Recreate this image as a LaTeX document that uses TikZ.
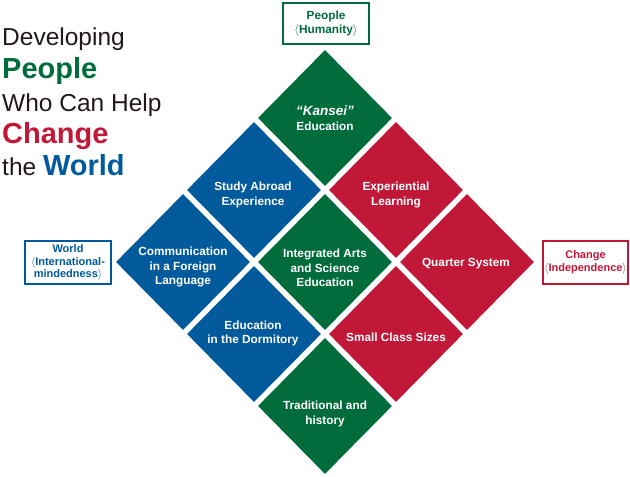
\documentclass[tikz,border=0pt]{standalone}
\usepackage{fontspec}
\setmainfont{Liberation Sans}
\usetikzlibrary{shapes.geometric}
\definecolor{cgreen}{RGB}{0,108,59}
\definecolor{cblue}{RGB}{0,90,156}
\definecolor{cred}{RGB}{193,24,56}
\definecolor{cblack}{RGB}{35,24,21}
\begin{document}
\begin{tikzpicture}[x=1pt,y=-1pt,
 tile/.style={diamond, minimum width=134, minimum height=136, inner sep=0, draw=none},
 lbl/.style={text=white, font=\bfseries\fontsize{11.8}{14.5}\selectfont, align=center, inner sep=0},
 frame/.style={draw, line width=2, fill=white, minimum width=86, minimum height=42, inner sep=0, align=center, font=\bfseries\fontsize{11}{13}\selectfont},
 ttl/.style={anchor=base west, inner sep=0, font=\fontsize{24.5}{29}\selectfont, text=cblack},
 ttlb/.style={anchor=base west, inner sep=0, font=\bfseries\fontsize{29}{34}\selectfont}]
\useasboundingbox (0,0) rectangle (630,477);

% title
\node[ttl] (t1) at (2,45) {Developing};
\node[ttlb, text=cgreen] (t2) at (2,78) {People};
\node[ttl] (t3) at (2,111) {Who Can Help};
\node[ttlb, text=cred] (t4) at (2,143) {Change};
\node[ttl] (t5) at (2,175) {the \textcolor{cblue}{\bfseries\fontsize{29}{34}\selectfont World}};

% tiles
\node[tile, fill=cgreen] (kansei) at (325,118) {};
\node[tile, fill=cblue]  (study)  at (254,190) {};
\node[tile, fill=cred]   (exper)  at (396,190) {};
\node[tile, fill=cblue]  (comm)   at (183,262) {};
\node[tile, fill=cgreen] (integ)  at (325,262) {};
\node[tile, fill=cred]   (quart)  at (467,262) {};
\node[tile, fill=cblue]  (dorm)   at (254,334) {};
\node[tile, fill=cred]   (small)  at (396,334) {};
\node[tile, fill=cgreen] (trad)   at (325,406) {};

% tile labels
\node[lbl] (kansei-t) at (325,118) {{\itshape\fontsize{13.5}{16}\selectfont “Kansei”}\\[1pt]Education};
\node[lbl] (study-t) at (253,195) {Study Abroad\\Experience};
\node[lbl] (exper-t) at (396,195) {Experiential\\Learning};
\node[lbl] (comm-t) at (183,267) {Communication\\in a Foreign\\Language};
\node[lbl] (integ-t) at (325,268) {Integrated Arts\\and Science\\Education};
\node[lbl] (quart-t) at (466,264) {Quarter System};
\node[lbl] (dorm-t) at (253,333.5) {Education\\in the Dormitory};
\node[lbl] (small-t) at (396,337) {Small Class Sizes};
\node[lbl] (trad-t) at (325,414) {Traditional and\\history};

% frames
\node[frame, draw=cgreen, text=cgreen, minimum height=41, font=\bfseries\fontsize{11.8}{14}\selectfont] (people) at (326,23.5) {People\\$\langle$Humanity$\rangle$};
\node[frame, draw=cblue, text=cblue, minimum height=43, font=\bfseries\fontsize{11}{12.5}\selectfont] (world) at (68,262.5) {World\\$\langle$International-\\mindedness$\rangle$};
\node[frame, draw=cred, text=cred, minimum width=85, minimum height=43] (change) at (585.5,262.5) {Change\\$\langle$Independence$\rangle$};
\end{tikzpicture}
\end{document}
